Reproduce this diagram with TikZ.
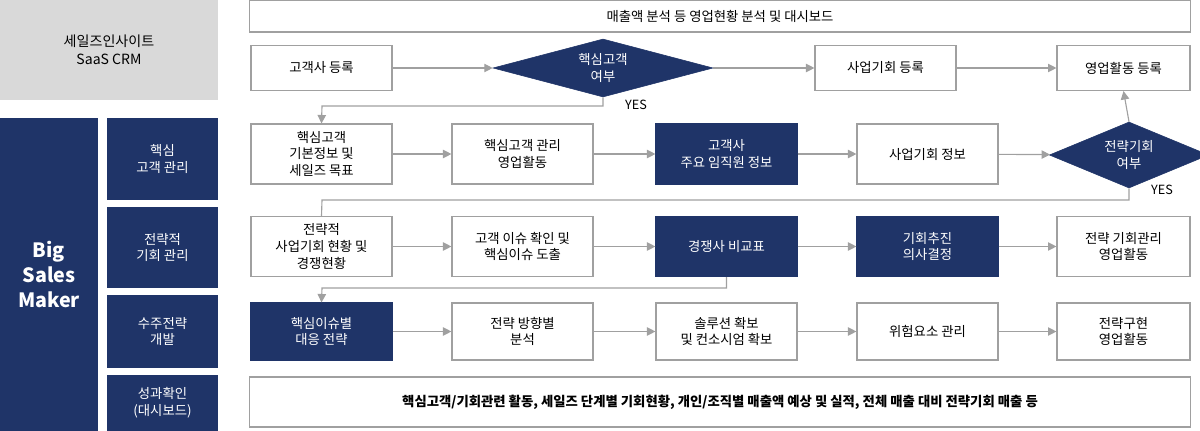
\documentclass[tikz,border=0pt]{standalone}
\usepackage{fontspec}
\setmainfont{Noto Sans CJK KR}
\usetikzlibrary{arrows.meta,shapes.geometric}
\definecolor{navy}{HTML}{1F3468}
\definecolor{grayline}{HTML}{A0A0A0}
\definecolor{graybox}{HTML}{D9D9D9}
\tikzset{
  box/.style={draw=grayline, thick, fill=white, align=center, inner sep=0pt, minimum width=3.525cm, minimum height=1.5cm, font=\fontsize{9.5}{12}\selectfont},
  dbox/.style={box, draw=navy, fill=navy, text=white},
  dia/.style={diamond, draw=navy, fill=navy, text=white, align=center, inner sep=0pt, aspect=3.8, font=\fontsize{9.5}{12}\selectfont},
  cat/.style={fill=navy, text=white, align=center, inner sep=0pt, minimum width=2.775cm, font=\fontsize{9.5}{12}\selectfont},
  flow/.style={draw=grayline, thick, -{Triangle[length=6pt,width=6pt]}},
  link/.style={draw=grayline, thick},
}
\begin{document}
\begin{tikzpicture}[x=0.025cm, y=-0.025cm]
\useasboundingbox (0,0) rectangle (1200,431);
% left column
\node[fill=graybox, minimum width=5.45cm, minimum height=2.5cm, align=center, font=\fontsize{10}{13}\selectfont] (crm) at (109,50) {세일즈인사이트\\SaaS CRM};
\node[fill=navy, text=white, minimum width=2.45cm, minimum height=7.825cm, align=center, font=\fontsize{14}{18}\selectfont\bfseries] (bsm) at (49,274.5) {Big\\Sales\\Maker};
\node[cat, minimum height=2.05cm] (c1) at (162.5,159) {핵심\\고객 관리};
\node[cat, minimum height=2.025cm] (c2) at (162.5,247.5) {전략적\\기회 관리};
\node[cat, minimum height=1.825cm] (c3) at (162.5,331.5) {수주전략\\개발};
\node[cat, minimum height=1.4cm] (c4) at (162.5,403) {성과확인\\(대시보드)};
% top and bottom wide boxes
\node[box, minimum width=23.5cm, minimum height=0.8cm] (dash) at (720,16) {매출액 분석 등 영업현황 분석 및 대시보드};
\node[box, minimum width=23.5cm, minimum height=1.25cm, font=\fontsize{9.5}{12}\selectfont\bfseries] (sum) at (720,402) {핵심고객/기회관련 활동, 세일즈 단계별 기회현황, 개인/조직별 매출액 예상 및 실적, 전체 매출 대비 전략기회 매출 등};
% row 1
\node[box, minimum height=1.125cm] (r1a) at (321.5,68) {고객사 등록};
\node[dia, minimum width=5.5cm, minimum height=1.45cm] (r1b) at (603,68) {핵심고객\\여부};
\node[box, minimum height=1.125cm] (r1c) at (885.5,68) {사업기회 등록};
\node[box, minimum height=1.125cm, minimum width=3.325cm] (r1d) at (1123.5,68) {영업활동 등록};
% row 2
\node[box] (r2a) at (321.5,154) {핵심고객\\기본정보 및\\세일즈 목표};
\node[box] (r2b) at (522.5,154) {핵심고객 관리\\영업활동};
\node[dbox] (r2c) at (726.5,154) {고객사\\주요 임직원 정보};
\node[box] (r2d) at (927.5,154) {사업기회 정보};
\node[dia, minimum width=3.5cm, minimum height=1.65cm] (r2e) at (1129,155) {전략기회\\여부};
% row 3
\node[box] (r3a) at (321.5,246.5) {전략적\\사업기회 현황 및\\경쟁현황};
\node[box] (r3b) at (522.5,246.5) {고객 이슈 확인 및\\핵심이슈 도출};
\node[dbox] (r3c) at (726.5,246.5) {경쟁사 비교표};
\node[dbox] (r3d) at (927.5,246.5) {기회추진\\의사결정};
\node[box, minimum width=3.325cm] (r3e) at (1123.5,246.5) {전략 기회관리\\영업활동};
% row 4
\node[dbox, minimum height=1.425cm] (r4a) at (321.5,331.5) {핵심이슈별\\대응 전략};
\node[box, minimum height=1.425cm] (r4b) at (522.5,331.5) {전략 방향별\\분석};
\node[box, minimum height=1.425cm] (r4c) at (726.5,331.5) {솔루션 확보\\및 컨소시엄 확보};
\node[box, minimum height=1.425cm] (r4d) at (927.5,331.5) {위험요소 관리};
\node[box, minimum height=1.425cm, minimum width=3.325cm] (r4e) at (1123.5,331.5) {전략구현\\영업활동};
% connectors
\draw[flow] (r1a) -- (r1b);
\draw[flow] (r1b) -- (r1c);
\draw[flow] (r1c) -- (r1d);
\draw[flow] (r1b.south) |- (322,106) -- (r2a.north);
\node[font=\fontsize{9}{11}\selectfont] (yes1) at (636,105) {YES};
\draw[flow] (r2a) -- (r2b);
\draw[flow] (r2b) -- (r2c);
\draw[flow] (r2c) -- (r2d);
\draw[flow] (r2d) -- (r2e);
\draw[flow] (r2e.north) -- (r1d.south);
\draw[link] (r2e.south) |- (322,200) -- (r3a.north);
\node[font=\fontsize{9}{11}\selectfont] (yes2) at (1162,190) {YES};
\draw[flow] (r3a) -- (r3b);
\draw[flow] (r3b) -- (r3c);
\draw[flow] (r3c) -- (r3d);
\draw[flow] (r3d) -- (r3e);
\draw[flow] (r3c.south) |- (322,288) -- (r4a.north);
\draw[flow] (r4a) -- (r4b);
\draw[flow] (r4b) -- (r4c);
\draw[flow] (r4c) -- (r4d);
\draw[flow] (r4d) -- (r4e);
\end{tikzpicture}
\end{document}
